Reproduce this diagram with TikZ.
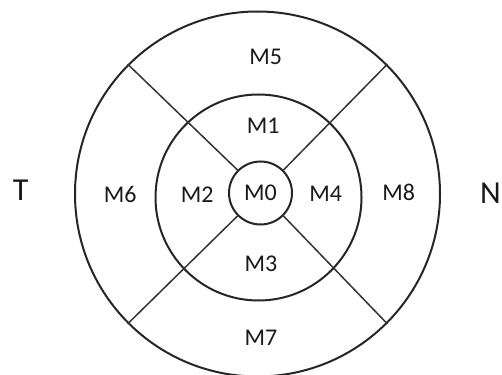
\documentclass[tikz,border=0pt]{standalone}
\usepackage{fontspec}
\setmainfont{Carlito}
\begin{document}
\begin{tikzpicture}[x=1pt,y=-1pt,
  ring/.style={circle, draw=black!85, line width=2pt, inner sep=0pt},
  spoke/.style={draw=black!80, line width=1.5pt},
  region/.style={inner sep=0pt, text=black!90, font=\fontsize{24}{25}\selectfont},
  side/.style={inner sep=0pt, text=black!90, font=\fontsize{32}{33}\selectfont}]
  \useasboundingbox (0,0) rectangle (502,374);
  % concentric rings
  \node[ring, minimum size=365pt] (outer) at (257.5,194) {};
  \node[ring, minimum size=206pt] (middle) at (258.5,197.5) {};
  \node[ring, minimum size=63pt, font=\fontsize{24}{25}\selectfont, text=black!90] (inner) at (260.5,193) {M0};
  % diagonal dividers from the inner ring to the outer ring
  \draw[spoke] (inner.45) -- (outer.45);
  \draw[spoke] (inner.135) -- (outer.135);
  \draw[spoke] (inner.225) -- (outer.225);
  \draw[spoke] (inner.315) -- (outer.315);
  % sector labels
  \node[region] (m1) at (263.3,126) {M1};
  \node[region] (m2) at (197.3,195) {M2};
  \node[region] (m3) at (261,263.3) {M3};
  \node[region] (m4) at (325.7,193.3) {M4};
  \node[region] (m5) at (265.7,56.7) {M5};
  \node[region] (m6) at (120.3,194) {M6};
  \node[region] (m7) at (261,337.7) {M7};
  \node[region] (m8) at (398.7,192.3) {M8};
  % side markers
  \node[side] (t) at (20.7,190.7) {T};
  \node[side] (n) at (490.5,193) {N};
\end{tikzpicture}
\end{document}
